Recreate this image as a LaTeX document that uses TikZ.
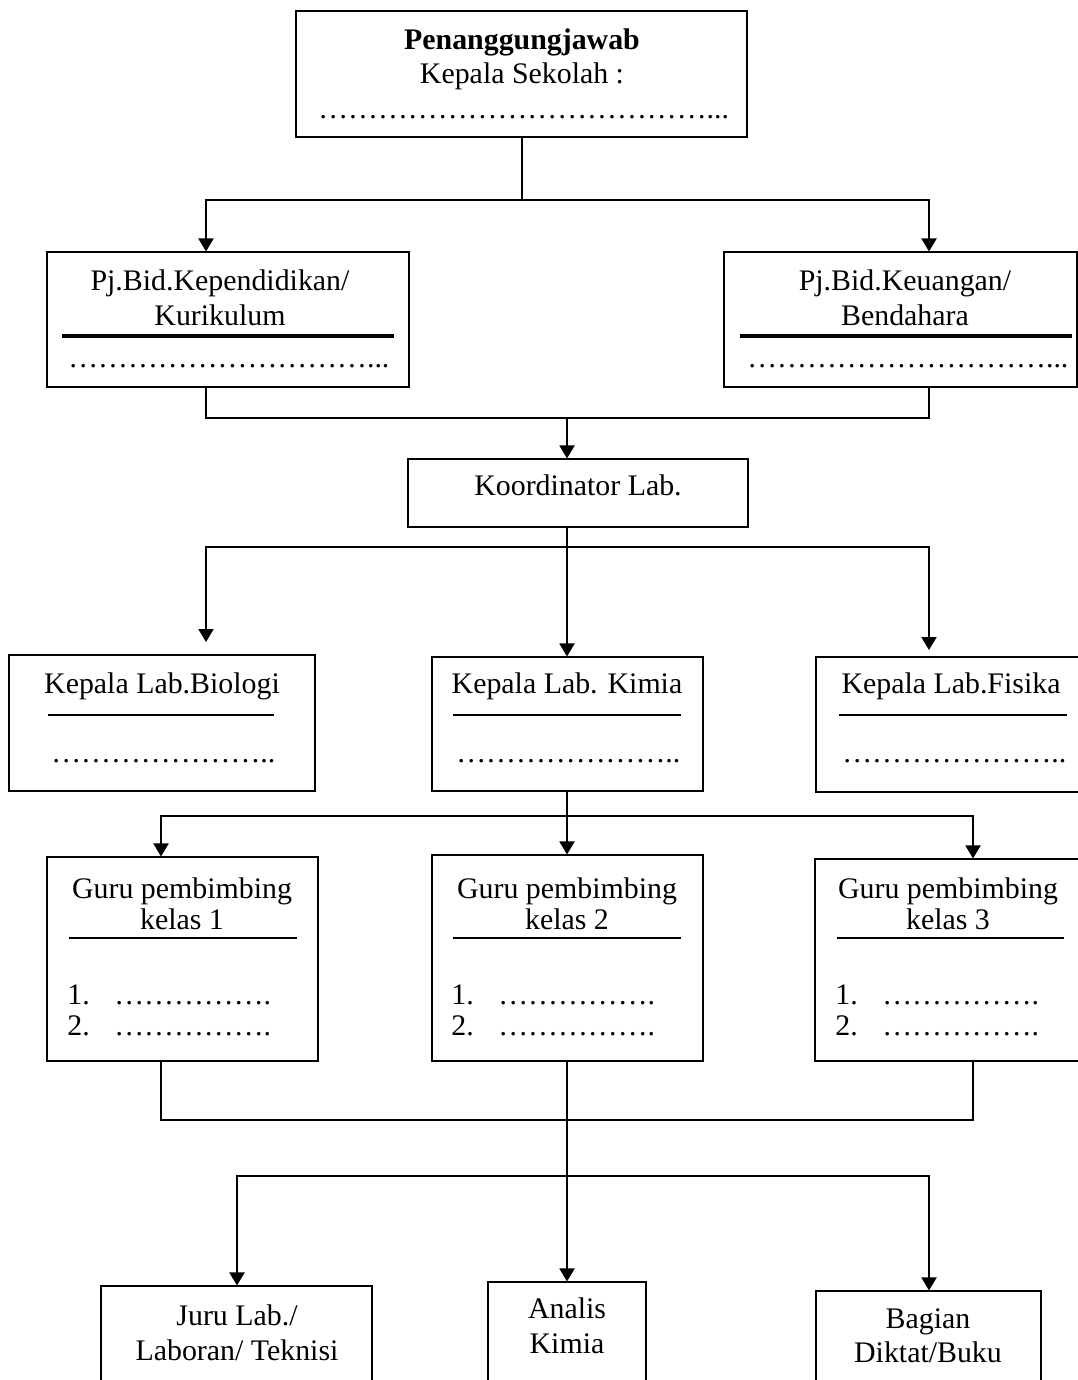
\documentclass[tikz,border=0pt]{standalone}
\usepackage{fontspec}
\setmainfont{Liberation Serif}
\usetikzlibrary{arrows.meta,fit,positioning}
\newcommand\orgfont{\fontsize{17}{20}\selectfont}

\begin{document}
\begin{tikzpicture}[x=0.02cm,y=-0.02cm,
  box/.style={draw,line width=0.6pt,inner sep=0pt},
  txt/.style={anchor=base,inner sep=0pt,font=\orgfont},
  txtl/.style={txt,anchor=base west},
  link/.style={line width=1.1pt},
  arrow/.style={link,-{Triangle[length=2.6mm,width=3mm]}},
  rule/.style={line width=1.1pt},
  thickrule/.style={line width=2.3pt}]
  \fill[white] (0,0) rectangle (1078,1380);
  \useasboundingbox (0,0) rectangle (1078,1380);
  \clip (0,0) rectangle (1078,1380);

  % boxes
  \node[box,fit={(296,11)(747,137)}] (head) {};
  \node[box,fit={(47,252)(409,387)}] (kur) {};
  \node[box,fit={(724,252)(1077,387)}] (keu) {};
  \node[box,fit={(408,459)(748,527)}] (koord) {};
  \node[box,fit={(9,655)(315,791)}] (bio) {};
  \node[box,fit={(432,657)(703,791)}] (kim) {};
  \node[box,fit={(816,657)(1090,792)}] (fis) {};
  \node[box,fit={(47,857)(318,1061)}] (guru1) {};
  \node[box,fit={(432,855)(703,1061)}] (guru2) {};
  \node[box,fit={(815,859)(1090,1061)}] (guru3) {};
  \node[box,fit={(101,1286)(372,1400)}] (juru) {};
  \node[box,fit={(488,1282)(646,1400)}] (analis) {};
  \node[box,fit={(816,1291)(1041,1400)}] (bagian) {};

  % texts
  \node[txt,font=\orgfont\bfseries] at (522,49) {Penanggungjawab};
  \node[txt] at (522,83) {Kepala Sekolah :};
  \node[txtl] at (318,118) {…………………………………...};

  \node[txt] at (220,290) {Pj.Bid.Kependidikan/};
  \node[txt] at (220,325) {Kurikulum};
  \draw[thickrule] (62,336) -- (394,336);
  \node[txtl] at (68,367) {…………………………...};

  \node[txt] at (905,290) {Pj.Bid.Keuangan/};
  \node[txt] at (905,325) {Bendahara};
  \draw[thickrule] (740,336) -- (1072,336);
  \node[txtl] at (747,367) {…………………………...};

  \node[txt] at (578,495) {Koordinator Lab.};

  \foreach \cx/\lx/\rx/\name in {162/48/274/Lab.Biologi, 567/453/681/Lab. Kimia, 951/839/1067/Lab.Fisika}{
    \node[txt] at (\cx,693) {Kepala \name};
    \draw[rule] (\lx,715) -- (\rx,715);
    \node[txtl] at (\lx+3,762) {…………………..};
  }

  \foreach \cx/\lx/\rx/\k in {182/69/297/1, 567/453/681/2, 948/837/1064/3}{
    \node[txt] at (\cx,898) {Guru pembimbing};
    \node[txt] at (\cx,929) {kelas \k};
    \draw[rule] (\lx,938) -- (\rx,938);
    \node[txtl] at (\lx-2,1004) {1.};
    \node[txtl] at (\lx+45,1004) {…………….};
    \node[txtl] at (\lx-2,1035) {2.};
    \node[txtl] at (\lx+45,1035) {…………….};
  }

  \node[txt] at (237,1325) {Juru Lab./};
  \node[txt] at (237,1360) {Laboran/ Teknisi};
  \node[txt] at (567,1318) {Analis};
  \node[txt] at (567,1353) {Kimia};
  \node[txt] at (928,1328) {Bagian};
  \node[txt] at (928,1362) {Diktat/Buku};

  % connectors
  \coordinate (spine) at (567,0);
  \coordinate (top) at (522,200);
  \coordinate (bar1) at (206,200);
  \coordinate (bar1r) at (929,200);
  \draw[link] (top |- head.south) -- (top);
  \draw[arrow] (bar1r) -- (bar1) -- (bar1 |- kur.north);
  \draw[arrow] (bar1) -- (bar1r) -- (bar1r |- keu.north);

  \coordinate (bar2) at (206,418);
  \coordinate (bar2r) at (929,418);
  \draw[link] (bar2 |- kur.south) -- (bar2) -- (bar2r) -- (bar2r |- keu.south);
  \draw[arrow] (spine |- bar2) -- (spine |- koord.north);

  \coordinate (bar3) at (206,547);
  \coordinate (bar3r) at (929,547);
  \coordinate (biotip) at (206,642);
  \coordinate (fistip) at (929,650);
  \draw[arrow] (spine |- koord.south) -- (spine |- kim.north);
  \draw[arrow] (bar3r) -- (bar3) -- (biotip);
  \draw[arrow] (bar3) -- (bar3r) -- (fistip);

  \coordinate (bar4) at (161,816);
  \coordinate (bar4r) at (973,816);
  \draw[arrow] (spine |- kim.south) -- (spine |- guru2.north);
  \draw[arrow] (bar4r) -- (bar4) -- (bar4 |- guru1.north);
  \draw[arrow] (bar4) -- (bar4r) -- (bar4r |- guru3.north);

  \coordinate (bar5) at (161,1120);
  \coordinate (bar5r) at (973,1120);
  \draw[link] (bar5 |- guru1.south) -- (bar5) -- (bar5r) -- (bar5r |- guru3.south);
  \draw[arrow] (spine |- guru2.south) -- (spine |- analis.north);

  \coordinate (bar6) at (237,1176);
  \coordinate (bar6r) at (929,1176);
  \draw[arrow] (bar6r) -- (bar6) -- (bar6 |- juru.north);
  \draw[arrow] (bar6) -- (bar6r) -- (bar6r |- bagian.north);
\end{tikzpicture}
\end{document}
